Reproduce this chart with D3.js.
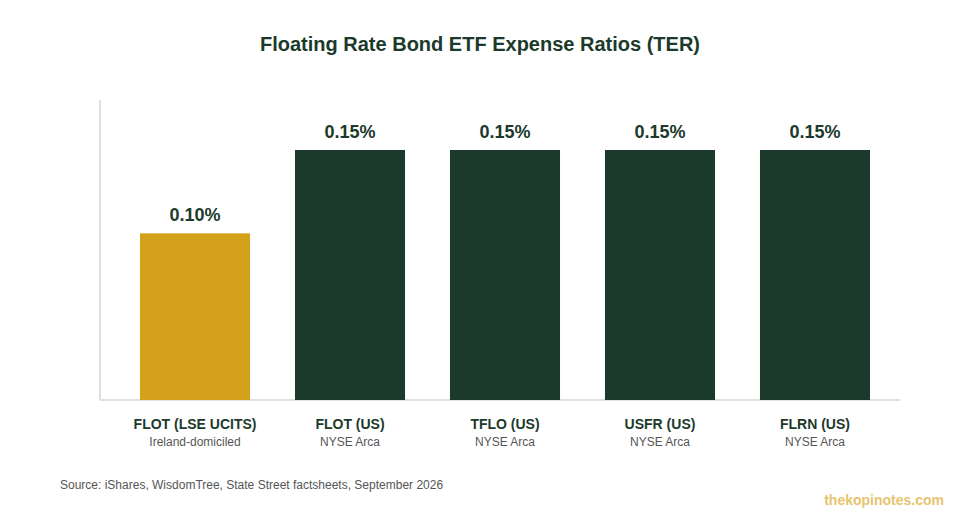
<!DOCTYPE html>
<html>
<head>
<meta charset="utf-8">
<script src="https://cdn.jsdelivr.net/npm/d3@7"></script>
<style>
  body { margin: 0; background: #fff; }
  text { font-family: "Liberation Sans", Arial, sans-serif; }
</style>
</head>
<body>
<svg width="960" height="520"></svg>
<script>
const tickers = ["FLOT (LSE UCITS)", "FLOT (US)", "TFLO (US)", "USFR (US)", "FLRN (US)"];
const venues = ["Ireland-domiciled", "NYSE Arca", "NYSE Arca", "NYSE Arca", "NYSE Arca"];
const ter = [0.10, 0.15, 0.15, 0.15, 0.15];
const barColors = ["#d4a11a", "#1b3a2b", "#1b3a2b", "#1b3a2b", "#1b3a2b"];

const width = 960;
const height = 520;
const svg = d3.select("svg");

const x = d3.scaleBand()
  .domain(tickers)
  .range([100, 910])
  .paddingInner(0.29)
  .paddingOuter(0.258);

const y = d3.scaleLinear()
  .domain([0, 0.18])
  .range([400, 100]);

// title
svg.append("text")
  .attr("x", width / 2)
  .attr("y", 51)
  .attr("text-anchor", "middle")
  .attr("font-size", 20)
  .attr("font-weight", "bold")
  .attr("fill", "#1b3a2b")
  .text("Floating Rate Bond ETF Expense Ratios (TER)");

// axis lines
svg.append("line")
  .attr("x1", 100).attr("x2", 100)
  .attr("y1", y.range()[1]).attr("y2", y(0))
  .attr("stroke", "#e0e0e0").attr("stroke-width", 2);

svg.append("line")
  .attr("x1", 100).attr("x2", 900)
  .attr("y1", y(0)).attr("y2", y(0))
  .attr("stroke", "#e0e0e0").attr("stroke-width", 2);

// bars
svg.append("g")
  .selectAll("rect")
  .data(tickers)
  .enter().append("rect")
  .attr("x", d => x(d))
  .attr("width", x.bandwidth())
  .attr("y", (d, i) => y(ter[i]))
  .attr("height", (d, i) => y(0) - y(ter[i]))
  .attr("fill", (d, i) => barColors[i]);

// value labels
svg.append("g")
  .selectAll("text")
  .data(tickers)
  .enter().append("text")
  .attr("x", d => x(d) + x.bandwidth() / 2)
  .attr("y", (d, i) => y(ter[i]) - 12)
  .attr("text-anchor", "middle")
  .attr("font-size", 18)
  .attr("font-weight", "bold")
  .attr("fill", "#1b3a2b")
  .text((d, i) => ter[i].toFixed(2) + "%");

// category labels
const cats = svg.append("g")
  .selectAll("g")
  .data(tickers)
  .enter().append("g")
  .attr("transform", d => `translate(${x(d) + x.bandwidth() / 2},0)`);

cats.append("text")
  .attr("y", 429)
  .attr("text-anchor", "middle")
  .attr("font-size", 14)
  .attr("font-weight", "bold")
  .attr("fill", "#1b3a2b")
  .text(d => d);

cats.append("text")
  .attr("y", 446)
  .attr("text-anchor", "middle")
  .attr("font-size", 12)
  .attr("fill", "#555")
  .text((d, i) => venues[i]);

// footer
svg.append("text")
  .attr("x", 60)
  .attr("y", 489)
  .attr("font-size", 12)
  .attr("fill", "#555")
  .text("Source: iShares, WisdomTree, State Street factsheets, September 2026");

svg.append("text")
  .attr("x", 944)
  .attr("y", 505)
  .attr("text-anchor", "end")
  .attr("font-size", 14)
  .attr("font-weight", "bold")
  .attr("fill", "#e6c46e")
  .text("thekopinotes.com");
</script>
</body>
</html>
